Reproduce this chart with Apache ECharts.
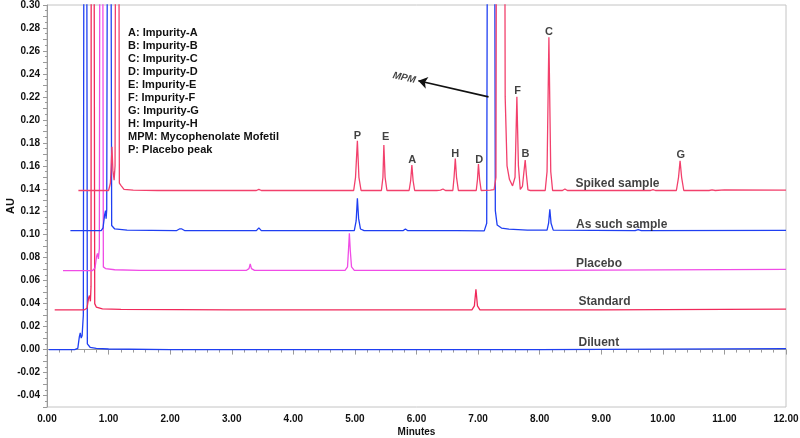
<!DOCTYPE html>
<html><head><meta charset="utf-8">
<style>html,body{margin:0;padding:0;background:#fff}#c{width:800px;height:438px}</style>
<script src="https://cdn.jsdelivr.net/npm/echarts@6/dist/echarts.min.js"></script>
</head><body><div id="c"></div>
<script>
// ---- data (time in minutes, AU) ----
const diluent = [[0.03,0.0],[0.45,0.0],[0.5,0.001],[0.525,0.011],[0.54,0.0145],[0.555,0.01],[0.57,0.012],[0.59,0.03],[0.605,0.6],[0.64,0.6],[0.655,0.005],[0.7,0.002],[0.8,0.001],[1.0,0.0005],[2.0,0.0],[5.0,0.0],[8.0,0.0],[10.0,0.0004],[12.0,0.0008]];
const standard = [[0.125,0.0345],[0.6,0.0345],[0.65,0.036],[0.675,0.045],[0.69,0.047],[0.705,0.042],[0.715,0.055],[0.72,0.6],[0.757,0.6],[0.775,0.04],[0.8,0.037],[0.9,0.0355],[1.2,0.035],[3.0,0.0345],[6.9,0.0345],[6.94,0.038],[6.965,0.0525],[6.99,0.038],[7.03,0.0345],[9.0,0.0345],[12.0,0.0352]];
const placebo = [[0.26,0.0688],[0.74,0.0688],[0.78,0.071],[0.805,0.081],[0.82,0.0838],[0.835,0.079],[0.85,0.088],[0.865,0.6],[0.898,0.6],[0.915,0.072],[0.95,0.0705],[1.1,0.0695],[1.5,0.069],[3.24,0.069],[3.28,0.0705],[3.3,0.0745],[3.32,0.0705],[3.37,0.069],[4.84,0.069],[4.88,0.072],[4.895,0.086],[4.91,0.1012],[4.925,0.086],[4.945,0.072],[4.99,0.069],[8.0,0.069],[12.0,0.0698]];
const asSuch = [[0.38,0.1035],[0.88,0.1035],[0.91,0.106],[0.935,0.117],[0.95,0.121],[0.96,0.114],[0.97,0.122],[0.99,0.6],[1.03,0.6],[1.05,0.108],[1.1,0.105],[1.3,0.104],[2.1,0.1035],[2.15,0.105],[2.19,0.105],[2.24,0.1035],[3.4,0.1035],[3.44,0.106],[3.48,0.1035],[4.99,0.1035],[5.02,0.112],[5.04,0.1317],[5.06,0.114],[5.09,0.105],[5.15,0.1035],[5.78,0.1035],[5.82,0.105],[5.86,0.1035],[6.6,0.1035],[6.63,0.1042],[6.66,0.1035],[7.1,0.1033],[7.14,0.11],[7.16,0.6],[7.26,0.6],[7.28,0.121],[7.31,0.1084],[7.38,0.1058],[7.5,0.1048],[7.8,0.104],[8.12,0.104],[8.145,0.11],[8.165,0.1222],[8.185,0.11],[8.22,0.104],[9.55,0.1035],[9.6,0.1045],[9.65,0.1035],[12.0,0.1038]];
const spiked = [[0.51,0.1385],[1.0,0.1385],[1.03,0.145],[1.055,0.1765],[1.07,0.156],[1.09,0.1475],[1.105,0.16],[1.12,0.6],[1.16,0.6],[1.175,0.145],[1.2,0.143],[1.25,0.1395],[1.4,0.1388],[1.8,0.1385],[3.4,0.1385],[3.44,0.1395],[3.48,0.1385],[4.98,0.1385],[5.01,0.15],[5.04,0.1817],[5.065,0.15],[5.1,0.1385],[5.27,0.1385],[5.3,0.1395],[5.33,0.1385],[5.43,0.1385],[5.455,0.15],[5.47,0.178],[5.49,0.15],[5.52,0.1385],[5.88,0.1385],[5.905,0.147],[5.925,0.1606],[5.945,0.147],[5.97,0.1385],[6.33,0.1385],[6.36,0.1398],[6.39,0.1388],[6.43,0.1398],[6.47,0.1385],[6.59,0.1385],[6.61,0.15],[6.63,0.1664],[6.65,0.15],[6.68,0.1385],[6.85,0.1385],[6.88,0.1392],[6.91,0.1385],[6.97,0.1385],[6.99,0.148],[7.006,0.1615],[7.025,0.148],[7.05,0.1385],[7.2,0.1388],[7.26,0.1392],[7.29,0.15],[7.305,0.6],[7.425,0.6],[7.44,0.22],[7.47,0.16],[7.51,0.148],[7.56,0.1425],[7.6,0.15],[7.63,0.22],[7.655,0.16],[7.685,0.1395],[7.72,0.142],[7.745,0.155],[7.765,0.165],[7.785,0.152],[7.81,0.139],[7.85,0.1385],[8.09,0.1385],[8.12,0.155],[8.15,0.272],[8.18,0.155],[8.21,0.1385],[8.37,0.1385],[8.41,0.1398],[8.45,0.1385],[9.8,0.1385],[9.84,0.1393],[9.88,0.1385],[10.22,0.1385],[10.255,0.15],[10.28,0.1643],[10.305,0.15],[10.34,0.1385],[10.75,0.1385],[10.8,0.139],[10.85,0.1385],[11.0,0.139],[12.0,0.1388]];

const peakLabels = [['P',5.04,0.186],['E',5.50,0.185],['A',5.93,0.165],['H',6.63,0.170],['D',7.02,0.1655],['F',7.64,0.225],['B',7.77,0.170],['C',8.15,0.2765],['G',10.29,0.1696]];
const traceNames = [['Spiked sample',8.58,0.1447],['As such sample',8.59,0.109],['Placebo',8.59,0.0745],['Standard',8.63,0.0417],['Diluent',8.63,0.0056]];
const legendLines = ['A: Impurity-A','B: Impurity-B','C: Impurity-C','D: Impurity-D','E: Impurity-E','F: Impurity-F','G: Impurity-G','H: Impurity-H','MPM: Mycophenolate Mofetil','P: Placebo peak'];
const mpmArrow = [[7.17,0.22],[6.03,0.234]];
const mpmText = ['MPM',5.80,0.2365];
const xRange = [0, 12, 1];
const yRange = [-0.05, 0.30, 0.01];

const FONT = "'Liberation Sans', Arial, Helvetica, sans-serif";
const BLUE = '#1f3ff2', RED = '#f0285a', MAG = '#f04ce6', PINK = '#f2406c';

const chart = echarts.init(document.getElementById('c'), null, {renderer:'canvas'});
function trace(name, data, color) {
  return {name, type:'line', data, showSymbol:false, symbol:'none', clip:true,
    lineStyle:{color, width:1.3}, animation:false, silent:true, z:2};
}
chart.setOption({
  animation:false,
  backgroundColor:'#fff',
  grid:{left:47, right:14, top:5, bottom:31, show:true, borderColor:'#c4c4c4', borderWidth:1,
    containLabel:false, outerBoundsMode:'none'},
  xAxis:{type:'value', min:xRange[0], max:xRange[1], interval:xRange[2],
    name:'Minutes', nameLocation:'middle', nameGap:20, nameMoveOverlap:false,
    nameTextStyle:{fontFamily:FONT, fontWeight:'bold', fontSize:10, color:'#111'},
    axisLine:{show:true, lineStyle:{color:'#9a9a9a'}},
    axisTick:{show:true, length:5, lineStyle:{color:'#9a9a9a'}},
    minorTick:{show:true, splitNumber:5, length:3, lineStyle:{color:'#9a9a9a'}},
    splitLine:{show:false},
    axisLabel:{fontFamily:FONT, fontWeight:'bold', fontSize:10, color:'#111', margin:7,
      formatter:v=>v.toFixed(2)}},
  yAxis:{type:'value', min:yRange[0], max:yRange[1], interval:yRange[2],
    name:'AU', nameLocation:'middle', nameGap:31, nameRotate:90, nameMoveOverlap:false,
    nameTextStyle:{fontFamily:FONT, fontWeight:'bold', fontSize:11, color:'#111'},
    axisLine:{show:true, lineStyle:{color:'#9a9a9a'}},
    axisTick:{show:true, length:4, lineStyle:{color:'#9a9a9a'}},
    minorTick:{show:true, splitNumber:2, length:2, lineStyle:{color:'#9a9a9a'}},
    splitLine:{show:false},
    axisLabel:{fontFamily:FONT, fontWeight:'bold', fontSize:10, color:'#111', margin:7,
      formatter:v=>{const k=Math.round(v*100); return (k%2===0)? (k/100).toFixed(2):'';}}},
  graphic:[{type:'text', left:128, top:27, silent:true,
    style:{text:legendLines.join('\n'), fontFamily:FONT, fontWeight:'bold', fontSize:11,
      lineHeight:12.9, fill:'#111'}}],
  series:[
    trace('Diluent', diluent, BLUE),
    trace('Standard', standard, RED),
    trace('Placebo', placebo, MAG),
    trace('As such sample', asSuch, BLUE),
    Object.assign(trace('Spiked sample', spiked, PINK), {
      markLine:{silent:true, symbol:['none','arrow'], symbolSize:[9,9], animation:false,
        lineStyle:{color:'#111', width:1.6, type:'solid'}, label:{show:false},
        data:[[{coord:mpmArrow[0]},{coord:mpmArrow[1]}]]}
    }),
    {type:'scatter', silent:true, symbolSize:0, animation:false, z:5,
      data:peakLabels.map(p=>[p[1],p[2],p[0]]),
      label:{show:true, position:'inside', formatter:p=>p.value[2],
        fontFamily:FONT, fontWeight:'bold', fontSize:11, color:'#111'}},
    {type:'scatter', silent:true, symbolSize:0, animation:false, z:5,
      data:traceNames.map(p=>[p[1],p[2],p[0]]),
      label:{show:true, position:'inside', align:'left', verticalAlign:'middle', formatter:p=>p.value[2],
        fontFamily:FONT, fontWeight:'bold', fontSize:12, color:'#111'}},
    {type:'scatter', silent:true, symbolSize:0, animation:false, z:5,
      data:[[mpmText[1],mpmText[2],mpmText[0]]],
      label:{show:true, position:'inside', rotate:-13, formatter:p=>p.value[2],
        fontFamily:FONT, fontWeight:'bold', fontStyle:'italic', fontSize:10, color:'#111'}}
  ]
});
</script></body></html>
